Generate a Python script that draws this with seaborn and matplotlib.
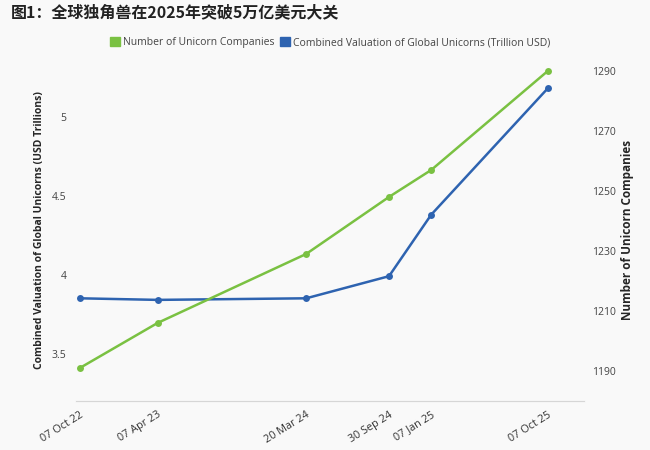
import numpy as np
import pandas as pd
import matplotlib.pyplot as plt
from matplotlib.patches import Patch
import seaborn as sns

# %%
dates = ['2022-10-07', '2023-04-07', '2024-03-20', '2024-09-30', '2025-01-07', '2025-10-07']
tick_labels = ['07 Oct 22', '07 Apr 23', '20 Mar 24', '30 Sep 24', '07 Jan 25', '07 Oct 25']
valuation = [3.85, 3.84, 3.85, 3.99, 4.38, 5.18]
unicorns = [1191, 1206, 1229, 1248, 1257, 1290]

title = '图1：全球独角兽在2025年突破5万亿美元大关'
green = '#7ac142'
blue = '#2e63b0'
bg = '#f9f9f9'

df = pd.DataFrame({'date': pd.to_datetime(dates), 'valuation': valuation, 'unicorns': unicorns})

# %%
sns.set_style('white')
plt.rcParams['font.family'] = ['Open Sans', 'Noto Sans CJK SC', 'DejaVu Sans']

fig = plt.figure(figsize=(6.5, 4.5), dpi=100, facecolor=bg)
ax = fig.add_axes([0.117, 0.109, 0.781, 0.758], facecolor=bg)
ax2 = ax.twinx()

sns.lineplot(data=df, x='date', y='valuation', ax=ax, color=blue, marker='o',
             markersize=5, markeredgewidth=0, linewidth=1.8)
sns.lineplot(data=df, x='date', y='unicorns', ax=ax2, color=green, marker='o',
             markersize=5, markeredgewidth=0, linewidth=1.8)

ax.set_xlim(pd.Timestamp('2022-09-28'), pd.Timestamp('2025-12-30'))
ax.set_ylim(3.2, 5.36)
ax2.set_ylim(1180, 1293.7)
ax.set_yticks([3.5, 4, 4.5, 5])
ax.set_yticklabels(['3.5', '4', '4.5', '5'])
ax2.set_yticks([1190, 1210, 1230, 1250, 1270, 1290])

ax.set_xticks(df['date'])
ax.set_xticklabels(tick_labels, rotation=32, ha='right', rotation_mode='anchor')

for a in (ax, ax2):
    for s in ['top', 'left', 'right']:
        a.spines[s].set_visible(False)
    a.spines['bottom'].set_color('#d6d6d6')
    a.tick_params(axis='y', length=0, labelsize=7.5, colors='#444444')
ax.tick_params(axis='x', length=4, color='#d6d6d6', labelsize=7.8, colors='#333333', pad=2)
ax.tick_params(axis='y', pad=7)
ax2.tick_params(axis='y', pad=6)

ax.set_xlabel('')
ax.set_ylabel('Combined Valuation of Global Unicorns (USD Trillions)', fontsize=7.5,
              fontweight='bold', labelpad=5)
ax2.set_ylabel('Number of Unicorn Companies', fontsize=8.5, fontweight='bold', labelpad=4)

fig.text(0.016, 0.972, title, fontsize=11.5, fontweight='bold', va='center',
         family=['Noto Sans CJK SC', 'DejaVu Sans'], color='#222222')

handles = [Patch(color=green, label='Number of Unicorn Companies'),
           Patch(color=blue, label='Combined Valuation of Global Unicorns (Trillion USD)')]
fig.legend(handles=handles, loc='center', bbox_to_anchor=(0.508, 0.905), ncol=2,
           frameon=False, fontsize=7.5, handlelength=0.9, handleheight=0.9,
           handletextpad=0.3, columnspacing=0.6, labelcolor='#444444')

fig.savefig('out.png', dpi=100, facecolor=bg)
